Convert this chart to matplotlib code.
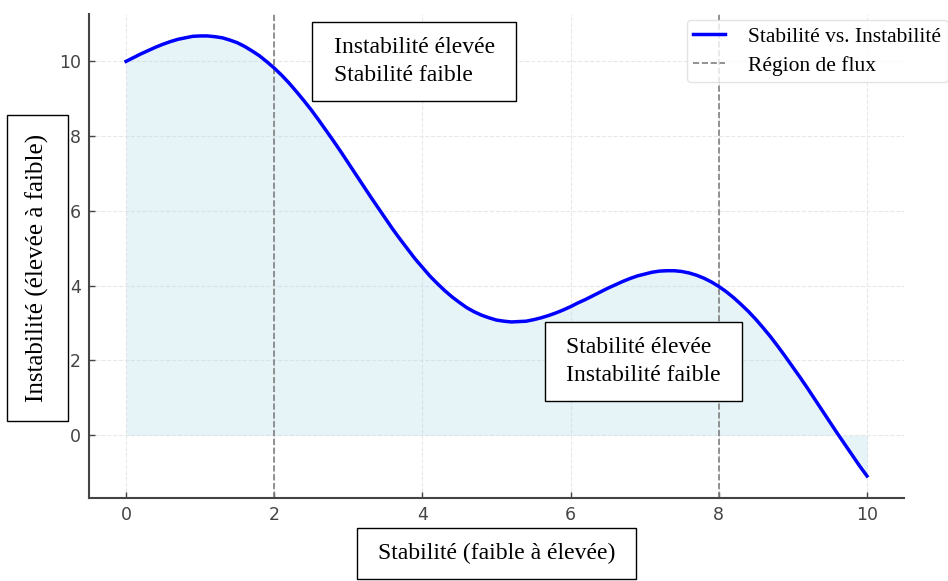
import numpy as np
import matplotlib
matplotlib.use("Agg")
import matplotlib.pyplot as plt

# curve values, step 0.1
x = np.round(np.arange(0, 10.001, 0.1), 1)
y = [10.00, 10.10, 10.20, 10.29, 10.38, 10.46, 10.53, 10.59, 10.63, 10.67,
     10.68, 10.68, 10.66, 10.63, 10.57, 10.50, 10.40, 10.28, 10.15, 9.99,
     9.82, 9.63, 9.42, 9.19, 8.95, 8.70, 8.43, 8.15, 7.87, 7.58,
     7.28, 6.98, 6.68, 6.38, 6.09, 5.80, 5.51, 5.24, 4.98, 4.72,
     4.49, 4.26, 4.06, 3.87, 3.70, 3.55, 3.41, 3.30, 3.21, 3.14,
     3.08, 3.05, 3.03, 3.04, 3.05, 3.09, 3.14, 3.20, 3.27, 3.35,
     3.44, 3.54, 3.63, 3.73, 3.83, 3.93, 4.02, 4.11, 4.19, 4.26,
     4.31, 4.36, 4.39, 4.40, 4.40, 4.38, 4.34, 4.28, 4.20, 4.10,
     3.98, 3.84, 3.68, 3.50, 3.31, 3.10, 2.87, 2.63, 2.37, 2.10,
     1.82, 1.54, 1.25, 0.95, 0.65, 0.35, 0.05, -0.24, -0.53, -0.82,
     -1.09]
flux_bounds = [2, 8]

serif = ['Liberation Serif', 'DejaVu Serif']

fig = plt.figure(figsize=(9.48, 5.81), dpi=100)
ax = fig.add_axes([0.0939, 0.1429, 0.8597, 0.8331])

ax.plot(x, y, color='blue', lw=2.5, label='Stabilité vs. Instabilité', zorder=3)
ax.fill_between(x, y, 0, color='lightblue', alpha=0.3, lw=0)
for i, b in enumerate(flux_bounds):
    ax.axvline(b, color='gray', ls='--', lw=1.2,
               label='Région de flux' if i == 0 else None)

ax.grid(True, ls='--', color='#e8e8e8', lw=0.8)
ax.set_axisbelow(True)
for s in ['top', 'right']:
    ax.spines[s].set_visible(False)
for s in ['left', 'bottom']:
    ax.spines[s].set_color('#444444')
    ax.spines[s].set_linewidth(1.5)
ax.tick_params(labelsize=12.5, colors='#444444', direction='in',
               length=4, width=1, pad=6)

box = dict(boxstyle='square,pad=0.9', mutation_aspect=0.72,
           facecolor='white', edgecolor='black', lw=1)
ybox = dict(boxstyle='square,pad=0.75', facecolor='white', edgecolor='black', lw=1)
ax.set_xlabel('Stabilité (faible à élevée)', fontsize=17, family=serif, bbox=box)
ax.set_ylabel('Instabilité (élevée à faible)', fontsize=18, family=serif, bbox=ybox)
ax.xaxis.set_label_coords(0.5, -0.093)
ax.yaxis.set_label_coords(-0.049, 0.475)

ax.text(3.89, 10.0, 'Instabilité élevée\nStabilité faible', fontsize=17,
        family=serif, ha='center', va='center', multialignment='left',
        linespacing=1.4, bbox=box, zorder=5)
ax.text(6.98, 1.97, 'Stabilité élevée\nInstabilité faible', fontsize=17,
        family=serif, ha='center', va='center', multialignment='left',
        linespacing=1.4, bbox=box, zorder=5)

ax.legend(loc='upper left', bbox_to_anchor=(0.7247, 0.9656),
          bbox_transform=fig.transFigure, borderaxespad=0,
          prop={'family': serif, 'size': 15.5}, frameon=True,
          edgecolor='#dddddd', handlelength=1.45, handletextpad=1.1,
          labelspacing=0.42, borderpad=0.3)

fig.savefig('out.png', dpi=100)
